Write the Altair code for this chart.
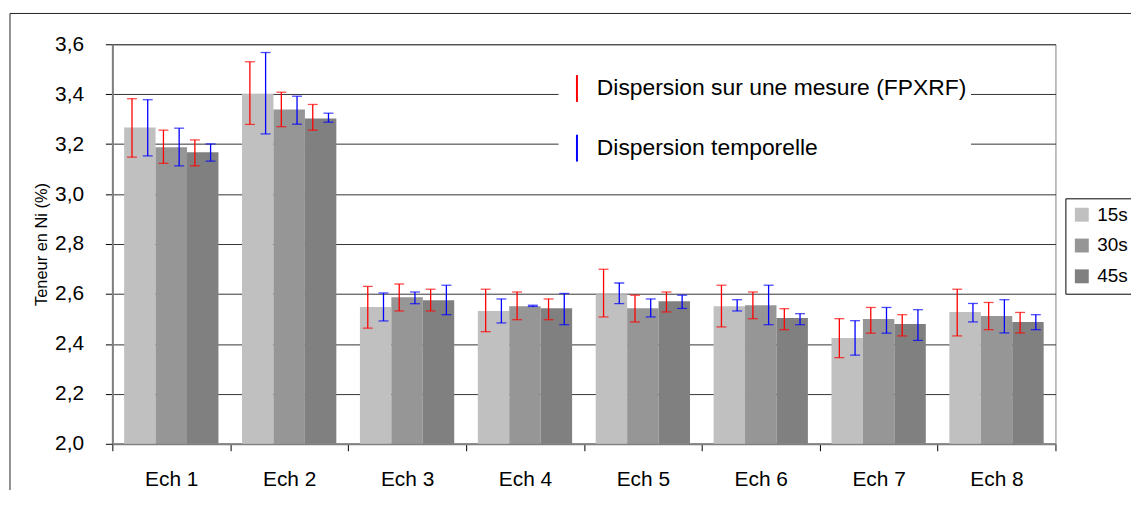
import altair as alt
import pandas as pd

FONT = "Liberation Sans"

categories = ["Ech 1", "Ech 2", "Ech 3", "Ech 4", "Ech 5", "Ech 6", "Ech 7", "Ech 8"]
durations = ["15s", "30s", "45s"]
bar_colors = ["#C0C0C0", "#969696", "#808080"]

mean_15s = [3.267, 3.402, 2.548, 2.532, 2.599, 2.551, 2.424, 2.528]
mean_30s = [3.188, 3.339, 2.587, 2.551, 2.543, 2.555, 2.500, 2.512]
mean_45s = [3.168, 3.303, 2.575, 2.543, 2.571, 2.504, 2.480, 2.488]

# Dispersion sur une mesure (FPXRF) - red bars (low / high)
fpxrf_low_15s = [3.148, 3.279, 2.463, 2.449, 2.508, 2.468, 2.345, 2.432]
fpxrf_high_15s = [3.382, 3.530, 2.630, 2.619, 2.699, 2.635, 2.501, 2.619]
fpxrf_low_30s = [3.123, 3.270, 2.532, 2.497, 2.488, 2.501, 2.443, 2.457]
fpxrf_high_30s = [3.256, 3.408, 2.640, 2.608, 2.595, 2.608, 2.546, 2.566]
fpxrf_low_45s = [3.113, 3.256, 2.532, 2.497, 2.528, 2.457, 2.432, 2.444]
fpxrf_high_45s = [3.217, 3.359, 2.619, 2.580, 2.608, 2.541, 2.517, 2.526]

# Dispersion temporelle - blue bars (low / high)
temp_low_15s = [3.153, 3.241, 2.492, 2.484, 2.561, 2.532, 2.355, 2.488]
temp_high_15s = [3.378, 3.567, 2.604, 2.580, 2.644, 2.577, 2.493, 2.562]
temp_low_30s = [3.113, 3.280, 2.561, 2.550, 2.508, 2.477, 2.443, 2.444]
temp_high_30s = [3.264, 3.392, 2.608, 2.555, 2.580, 2.635, 2.546, 2.577]
temp_low_45s = [3.132, 3.288, 2.517, 2.477, 2.542, 2.477, 2.414, 2.457]
temp_high_45s = [3.201, 3.324, 2.635, 2.602, 2.595, 2.521, 2.537, 2.517]

disp_labels = ["Dispersion sur une mesure (FPXRF)", "Dispersion temporelle"]
disp_colors = ["#FF0000", "#0000FF"]

y_ticks = [2.0, 2.2, 2.4, 2.6, 2.8, 3.0, 3.2, 3.4, 3.6]
y_title = "Teneur en Ni (%)"

means = {"15s": mean_15s, "30s": mean_30s, "45s": mean_45s}
fp = {"15s": (fpxrf_low_15s, fpxrf_high_15s), "30s": (fpxrf_low_30s, fpxrf_high_30s),
      "45s": (fpxrf_low_45s, fpxrf_high_45s)}
tp = {"15s": (temp_low_15s, temp_high_15s), "30s": (temp_low_30s, temp_high_30s),
      "45s": (temp_low_45s, temp_high_45s)}

bar_rows, err_rows = [], []
keys = []
for d in durations:
    keys += [d + "|F", d + "|T"]
for i, c in enumerate(categories):
    for d in durations:
        bar_rows.append({"cat": c, "duree": d, "val": means[d][i]})
        err_rows.append({"cat": c, "key": d + "|F", "disp": disp_labels[0],
                         "low": fp[d][0][i], "high": fp[d][1][i]})
        err_rows.append({"cat": c, "key": d + "|T", "disp": disp_labels[1],
                         "low": tp[d][0][i], "high": tp[d][1][i]})
bars_df = pd.DataFrame(bar_rows)
err_df = pd.DataFrame(err_rows)

x_enc = alt.X(
    "cat:N", sort=categories, title=None,
    scale=alt.Scale(paddingInner=0, paddingOuter=0),
    axis=alt.Axis(tickBand="extent", labelAngle=0, labelFontSize=21, labelFont=FONT,
                  labelColor="black", labelBaseline="middle", labelPadding=29,
                  tickSize=7, tickColor="#000000", domainColor="#808080",
                  domainWidth=2, grid=False),
)

y_scale = alt.Scale(domain=[2.0, 3.6], zero=False, nice=False)

bars = alt.Chart(bars_df).mark_bar().encode(
    x=x_enc,
    xOffset=alt.XOffset("duree:N", sort=durations,
                        scale=alt.Scale(paddingInner=0, paddingOuter=0.375)),
    y=alt.Y("val:Q", scale=y_scale,
            axis=alt.Axis(values=y_ticks,
                          labelExpr="replace(format(datum.value, '.1f'), '.', ',')",
                          labelFontSize=21, labelFont=FONT, labelColor="black",
                          labelPadding=22, tickSize=7, tickColor="#000000",
                          domainColor="#808080", domainWidth=2,
                          gridColor="#333333", gridWidth=1,
                          title=y_title, titleFontSize=16.5, titleFont=FONT,
                          titleFontWeight="normal", titleColor="black",
                          titleX=-71, titleY=201, titleAngle=270,
                          titleAlign="center", titleBaseline="middle")),
    y2=alt.Y2Datum(2.0),
    fill=alt.Fill("duree:N", scale=alt.Scale(domain=durations, range=bar_colors),
                  legend=alt.Legend(title=None, orient="none", legendX=959, legendY=155,
                                    direction="vertical", strokeColor="black",
                                    fillColor="white", padding=7, symbolType="square",
                                    symbolSize=196, symbolStrokeWidth=0,
                                    labelFontSize=19, labelFont=FONT, labelColor="black",
                                    labelOffset=6, rowPadding=11, labelLimit=0)),
)

err_off = alt.XOffset("key:N", sort=keys,
                      scale=alt.Scale(paddingInner=0, paddingOuter=0.75))

rules = alt.Chart(err_df).mark_rule(strokeWidth=1.3).encode(
    x=x_enc,
    xOffset=err_off,
    y=alt.Y("low:Q", scale=y_scale),
    y2="high:Q",
    stroke=alt.Stroke("disp:N", scale=alt.Scale(domain=disp_labels, range=disp_colors),
                      legend=alt.Legend(title=None, orient="none", legendX=449,
                                        legendY=26, fillColor="white", padding=4,
                                        symbolType="M0,-1V1", symbolSize=729,
                                        symbolStrokeWidth=2,
                                        symbolFillColor="transparent",
                                        labelFontSize=23, labelFont=FONT,
                                        labelColor="black", labelOffset=5.5,
                                        rowPadding=25, labelLimit=0)),
)

cap_color = alt.Color("disp:N", scale=alt.Scale(domain=disp_labels, range=disp_colors),
                      legend=None)

caps_low = alt.Chart(err_df).mark_tick(orient="horizontal", size=10, thickness=1.3).encode(
    x=x_enc, xOffset=err_off, y=alt.Y("low:Q", scale=y_scale), color=cap_color)
caps_high = alt.Chart(err_df).mark_tick(orient="horizontal", size=10, thickness=1.3).encode(
    x=x_enc, xOffset=err_off, y=alt.Y("high:Q", scale=y_scale), color=cap_color)

frame_df = pd.DataFrame({"a": [0]})
frame_top = alt.Chart(frame_df).mark_rule(color="#222222", strokeWidth=1).encode(
    x=alt.value(-103), x2=alt.value(1100), y=alt.value(-31))
frame_left = alt.Chart(frame_df).mark_rule(color="#222222", strokeWidth=1).encode(
    x=alt.value(-103), y=alt.value(-31), y2=alt.value(600))

chart = alt.layer(bars, rules, caps_low, caps_high, frame_top, frame_left).resolve_scale(
    xOffset="independent"
).properties(
    width=949, height=402,
    padding={"left": 105, "top": 35, "right": 76, "bottom": 45},
    autosize=alt.AutoSizeParams(type="none"),
).configure_view(stroke="#808080", strokeWidth=1)

chart.save("out.html", embed_options={"renderer": "svg", "actions": False})
